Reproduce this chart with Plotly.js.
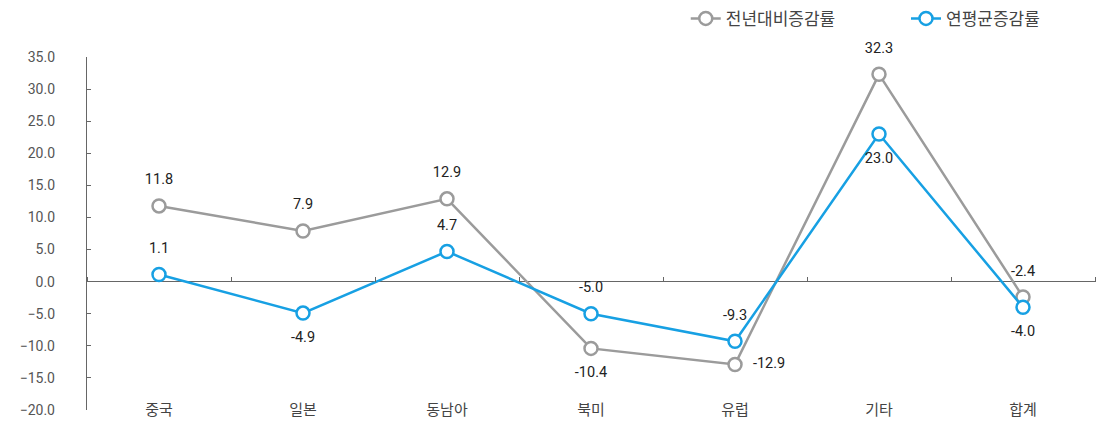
<!DOCTYPE html>
<html><head><meta charset="utf-8">
<script src="https://cdn.plot.ly/plotly-3.0.1.min.js"></script>
<style>html,body{margin:0;padding:0;background:#fff;}#chart{width:1097px;height:425px;}</style>
</head><body><div id="chart"></div>
<script>
const categories = ['중국','일본','동남아','북미','유럽','기타','합계'];
const yoyRate = [11.8, 7.9, 12.9, -10.4, -12.9, 32.3, -2.4];
const cagrRate = [1.1, -4.9, 4.7, -5.0, -9.3, 23.0, -4.0];
const seriesNames = ['전년대비증감률', '연평균증감률'];
const yTickVals = [-20, -15, -10, -5, 0, 5, 10, 15, 20, 25, 30, 35];

const yoyPos = ['top center','top center','top center','bottom center','middle right','top center','top center'];
const cagrPos = ['top center','bottom center','top center','top center','top center','bottom center','bottom center'];

const labelFont = {family: 'Roboto, "Noto Sans", sans-serif', size: 14.5, color: '#222'};
const gray = '#9b9b9b', blue = '#17a0e3';

function seriesTrace(y, name, color, legendId) {
  return {x: categories, y: y, name: name, type: 'scatter', mode: 'lines+markers', legend: legendId,
    line: {color: color, width: 2.5},
    marker: {symbol: 'circle', size: 13, color: '#fff', line: {color: color, width: 2.5}},
    cliponaxis: false, hoverinfo: 'skip'};
}
function labelTrace(y, pos) {
  return {x: categories, y: y, type: 'scatter', mode: 'markers+text', showlegend: false,
    text: y.map(v => v.toFixed(1)), textposition: pos, textfont: labelFont,
    marker: {size: 27, color: 'rgba(0,0,0,0)', line: {width: 0}},
    cliponaxis: false, hoverinfo: 'skip'};
}

const traces = [
  seriesTrace(yoyRate, seriesNames[0], gray, 'legend'),
  seriesTrace(cagrRate, seriesNames[1], blue, 'legend2'),
  labelTrace(yoyRate, yoyPos),
  labelTrace(cagrRate, cagrPos),
  {x: categories, y: cagrRate, xaxis: 'x2', yaxis: 'y', type: 'scatter', mode: 'lines',
   line: {width: 0}, opacity: 0, showlegend: false, hoverinfo: 'skip'}
];

const legendFont = {family: '"Noto Sans CJK KR", sans-serif', size: 17, color: '#444'};
const layout = {
  width: 1097, height: 425,
  margin: {l: 87, r: 2, t: 56, b: 15},
  paper_bgcolor: '#fff', plot_bgcolor: '#fff',
  showlegend: true,
  legend: {orientation: 'h', x: 0.594, xanchor: 'left', y: 1.105, yanchor: 'middle',
           font: legendFont, bgcolor: 'rgba(0,0,0,0)'},
  legend2: {orientation: 'h', x: 0.8125, xanchor: 'left', y: 1.105, yanchor: 'middle',
           font: legendFont, bgcolor: 'rgba(0,0,0,0)'},
  xaxis: {type: 'category', range: [-0.5, 6.5], showgrid: false, zeroline: false, showline: false,
          ticks: '', ticklabelstandoff: -11,
          tickfont: {family: '"Noto Sans CJK KR", sans-serif', size: 15, color: '#444'}},
  xaxis2: {type: 'category', overlaying: 'x', anchor: 'free', position: 20/55, side: 'top',
           range: [-0.5, 6.5], showgrid: false, zeroline: false, showline: false,
           showticklabels: false, ticks: 'outside', tickson: 'boundaries', ticklen: 5,
           tickcolor: '#666', tickwidth: 1},
  yaxis: {range: [-20, 35], tickvals: yTickVals, tickformat: '.1f', showgrid: false,
          zeroline: true, zerolinecolor: '#666', zerolinewidth: 1.2,
          showline: true, linecolor: '#666', linewidth: 1.2, mirror: false,
          ticks: 'inside', ticklen: 4, tickcolor: '#666', ticklabelstandoff: 28,
          tickfont: {family: 'Roboto, "Noto Sans", sans-serif', size: 14, color: '#555'}}
};

Plotly.newPlot('chart', traces, layout, {displayModeBar: false, staticPlot: true});
</script></body></html>
